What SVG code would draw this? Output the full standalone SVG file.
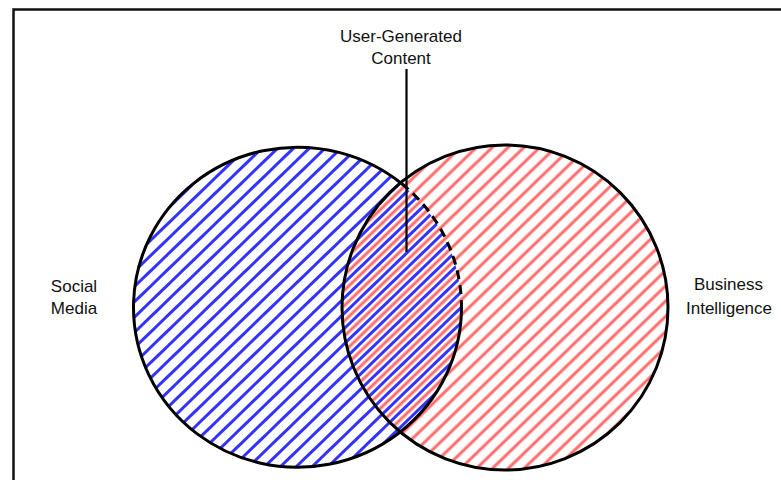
<svg xmlns="http://www.w3.org/2000/svg" width="781" height="480" viewBox="0 0 781 480">
<defs>
<pattern id="hatchBlue" width="11" height="11" patternUnits="userSpaceOnUse" patternTransform="rotate(-44)">
<line x1="0" y1="2.5" x2="11" y2="2.5" stroke="#3333ff" stroke-width="3"/>
</pattern>
<pattern id="hatchRed" width="11" height="11" patternUnits="userSpaceOnUse" patternTransform="rotate(-44)">
<line x1="0" y1="8" x2="11" y2="8" stroke="#ff6b6b" stroke-width="3"/>
</pattern>
</defs>
<style>
.lbl{font-family:"Liberation Sans",Arial,Helvetica,sans-serif;font-size:17px;fill:#111;text-anchor:middle}
.outline{fill:none;stroke:#000;stroke-width:3}
</style>
<rect x="0" y="0" width="781" height="480" fill="#fff"/>
<rect x="13.5" y="9.5" width="800" height="500" fill="none" stroke="#111" stroke-width="2.5"/>
<g id="business-intelligence">
<ellipse cx="505" cy="307.5" rx="163" ry="162.5" fill="url(#hatchRed)"/>
</g>
<g id="social-media">
<ellipse cx="297.5" cy="308" rx="164" ry="160" fill="url(#hatchBlue)"/>
</g>
<g id="outlines">
<ellipse class="outline" cx="505" cy="307.5" rx="163" ry="162.5"/>
<path class="outline" d="M 401.5 183.5 A 164 160 0 1 0 461.5 308"/>
<path class="outline" d="M 401.5 183.5 A 164 160 0 0 1 461.5 308" stroke-dasharray="9 6"/>
</g>
<g id="labels">
<text class="lbl" x="401" y="42">User-Generated</text>
<text class="lbl" x="401" y="64">Content</text>
<text class="lbl" x="74" y="292">Social</text>
<text class="lbl" x="74" y="314">Media</text>
<text class="lbl" x="728.5" y="290">Business</text>
<text class="lbl" x="729" y="314">Intelligence</text>
</g>
<g id="connectors">
<line x1="406.5" y1="69" x2="406.5" y2="252" stroke="#000" stroke-width="2.2"/>
</g>
</svg>
